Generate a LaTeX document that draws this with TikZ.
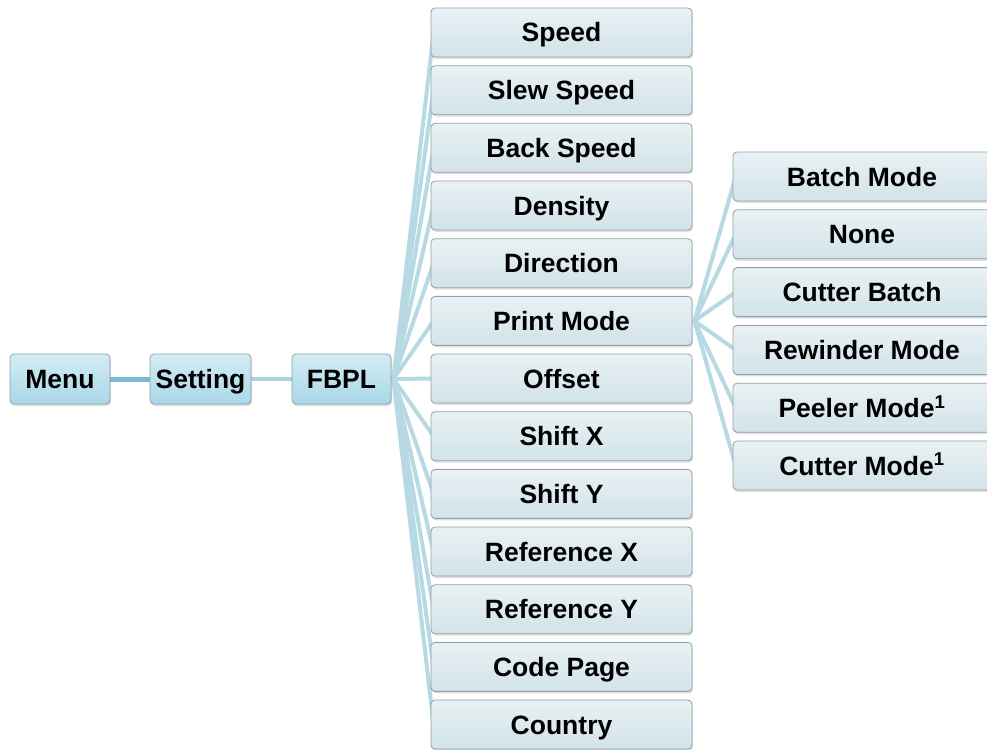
\documentclass[tikz,border=0pt]{standalone}
\usepackage{fontspec}
\setmainfont{Liberation Sans}
\usetikzlibrary{shadows,backgrounds}
\definecolor{boxborder}{HTML}{8FA1A8}
\definecolor{rtop}{HTML}{D3ECF4}
\definecolor{rbot}{HTML}{A9D7E7}
\definecolor{itop}{HTML}{E9F1F4}
\definecolor{ibot}{HTML}{D2E3E9}
\definecolor{linkc}{HTML}{B6D9E3}
\definecolor{linkdark}{HTML}{7BBBD0}
\definecolor{linkmid}{HTML}{A9D3E0}
\begin{document}
\begin{tikzpicture}[x=1pt,y=-1pt,
 box/.style={draw=boxborder, line width=0.8pt, rounded corners=4pt, minimum height=49pt, inner sep=0pt,
   font=\fontsize{26.5}{30}\selectfont\bfseries, text height=19pt, text depth=0pt,
   drop shadow={opacity=0.25, shadow xshift=1pt, shadow yshift=-2pt}},
 rootbox/.style={box, top color=rtop, bottom color=rbot, minimum height=50pt},
 itembox/.style={box, top color=itop, bottom color=ibot, minimum width=261pt},
 subbox/.style={box, top color=itop, bottom color=ibot, minimum width=258pt},
 link/.style={draw=linkc, line width=4pt}]
\clip (0,0) rectangle (987,749);
\useasboundingbox (0,0) rectangle (987,749);
\node[rootbox, minimum width=100pt] (menu) at (60,379) {Menu};
\node[rootbox, minimum width=101pt] (setting) at (200.5,379) {Setting};
\node[rootbox, minimum width=99pt] (fbpl) at (341.5,379) {FBPL};
\foreach \t [count=\i from 0] in {Speed,Slew Speed,Back Speed,Density,Direction,Print Mode,Offset,Shift X,Shift Y,Reference X,Reference Y,Code Page,Country}
  \node[itembox] (n\i) at (561.5,{32.5+57.67*\i}) {\t};
\foreach \t [count=\j from 0] in {Batch Mode,None,Cutter Batch,Rewinder Mode,Peeler Mode\textsuperscript{1},Cutter Mode\textsuperscript{1}}
  \node[subbox] (s\j) at (862,{176.5+57.8*\j}) {\t};
\begin{scope}[on background layer]
  \draw[draw=linkdark, line width=5pt] (menu.east) -- (setting.west);
  \draw[draw=linkmid, line width=4pt] (setting.east) -- (fbpl.west);
  \coordinate (fo) at ([xshift=2pt]fbpl.east);
  \foreach \i in {0,...,12}
    \draw[link] (fo) -- ([xshift=3pt]n\i.west);
  \coordinate (po) at ([xshift=2pt]n5.east);
  \foreach \j in {0,...,5}
    \draw[link] (po) -- ([xshift=3pt]s\j.west);
\end{scope}
\end{tikzpicture}
\end{document}
